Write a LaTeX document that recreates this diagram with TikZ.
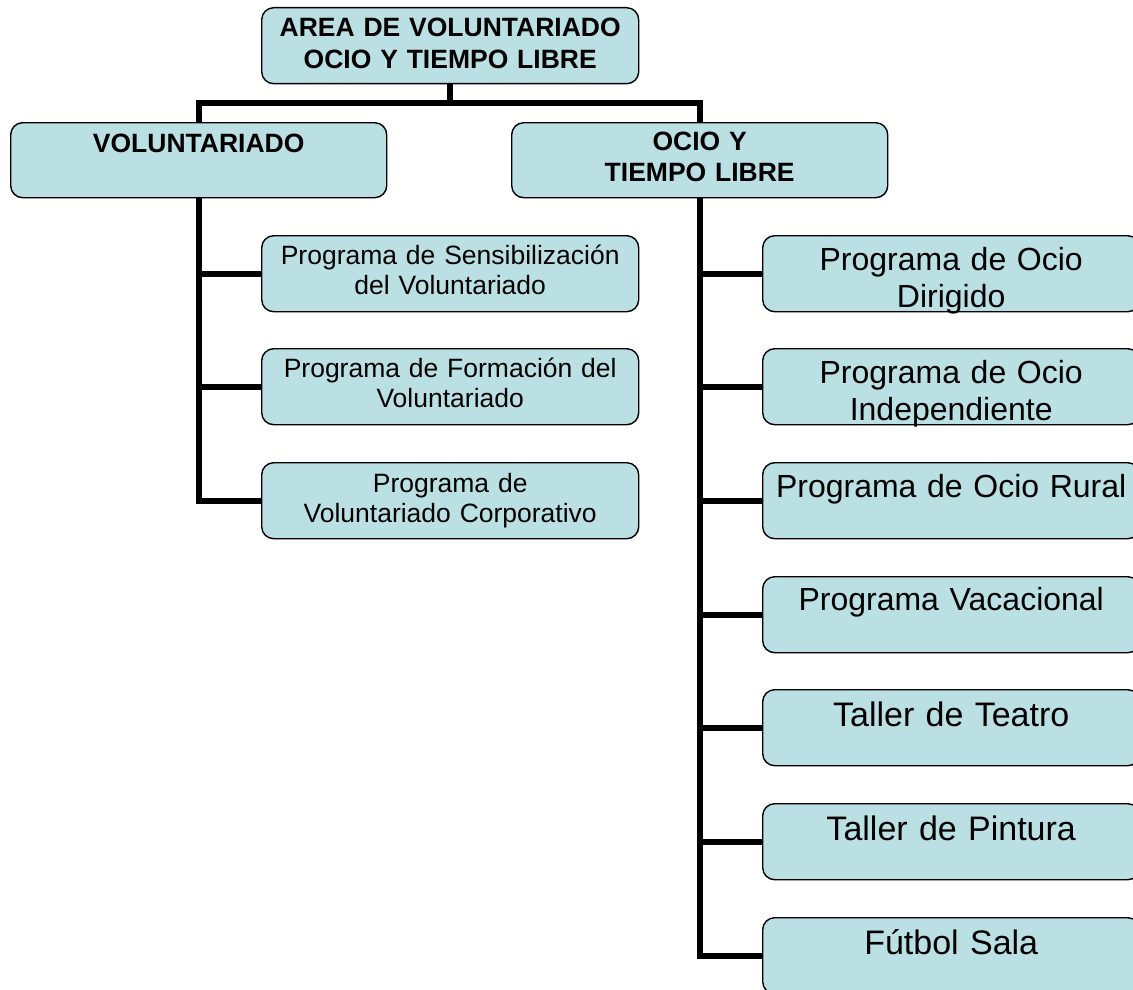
\documentclass[tikz,border=0pt]{standalone}
\usepackage{fontspec}
\setmainfont{Liberation Sans}
\usepackage{tikz}

\definecolor{celeste}{RGB}{186,224,228}

\begin{document}
\begin{tikzpicture}
            [x=1pt,y=-1pt,
             caja/.style={draw=black,line width=1.4pt,fill=celeste,rounded corners=12pt,
               minimum width=377pt,minimum height=76pt,inner sep=0pt,anchor=north west},
             texto/.style={anchor=base,inner sep=0pt,text width=375pt,align=center},
             titulo/.style={texto,font=\fontsize{26.5}{31.5}\selectfont\bfseries},
             prog/.style={texto,font=\fontsize{26.5}{30}\selectfont},
             progg/.style={texto,font=\fontsize{32}{37}\selectfont},
             taller/.style={texto,font=\fontsize{34}{39}\selectfont},
             tronco/.style={line width=6pt,line join=miter}]
            \useasboundingbox (0,0) rectangle (1133,990);
            \clip (0,0) rectangle (1133,990);
            % cajas
            \node[caja] (raiz) at (261,7) {};
            \node[caja,minimum width=376pt,minimum height=75pt] (vol) at (10,122) {};
            \node[caja,minimum width=376pt,minimum height=75pt] (ocio) at (511,122) {};
            \node[caja] (p1) at (261,235) {};
            \node[caja] (p2) at (261,348) {};
            \node[caja] (p3) at (261,462) {};
            \node[caja] (f1) at (762,235) {};
            \node[caja] (f2) at (762,348) {};
            \node[caja] (f3) at (762,462) {};
            \node[caja] (f4) at (762,576) {};
            \node[caja] (f5) at (762,689) {};
            \node[caja] (f6) at (762,803) {};
            \node[caja] (f7) at (762,917) {};
            %
            \node[titulo] (raiz-t) at ([yshift=-30pt]raiz.north) {AREA DE VOLUNTARIADO\\OCIO Y TIEMPO LIBRE};
            \node[titulo] (vol-t) at ([yshift=-30pt]vol.north) {VOLUNTARIADO};
            \node[titulo] (ocio-t) at ([yshift=-28pt]ocio.north) {OCIO Y\\TIEMPO LIBRE};
            \node[prog] (p1-t) at ([yshift=-29pt]p1.north) {Programa de Sensibilización\\del Voluntariado};
            \node[prog] (p2-t) at ([yshift=-29pt]p2.north) {Programa de Formación del\\Voluntariado};
            \node[prog] (p3-t) at ([yshift=-30pt]p3.north) {Programa de\\Voluntariado Corporativo};
            \node[progg] (f1-t) at ([yshift=-35pt]f1.north) {Programa de Ocio\\Dirigido};
            \node[progg] (f2-t) at ([yshift=-35pt]f2.north) {Programa de Ocio\\Independiente};
            \node[progg] (f3-t) at ([yshift=-35pt]f3.north) {Programa de Ocio Rural};
            \node[progg] (f4-t) at ([yshift=-34pt]f4.north) {Programa Vacacional};
            \node[taller] (f5-t) at ([yshift=-37pt]f5.north) {Taller de Teatro};
            \node[taller] (f6-t) at ([yshift=-37pt]f6.north) {Taller de Pintura};
            \node[taller] (f7-t) at ([yshift=-37pt]f7.north) {Fútbol Sala};
            %
            \coordinate (barra) at ([yshift=-19pt]raiz.south);
            \draw[tronco] (raiz.south) -- (barra);
            \draw[tronco] (vol.north) |- (barra) -| (ocio.north);
            \draw[tronco] (vol.south) |- (p3.west);
            \draw[tronco] (ocio.south) |- (f7.west);
            \draw[tronco] (p1.west -| vol.south) -- (p1.west);
            \draw[tronco] (p2.west -| vol.south) -- (p2.west);
            \draw[tronco] (f1.west -| ocio.south) -- (f1.west);
            \draw[tronco] (f2.west -| ocio.south) -- (f2.west);
            \draw[tronco] (f3.west -| ocio.south) -- (f3.west);
            \draw[tronco] (f4.west -| ocio.south) -- (f4.west);
            \draw[tronco] (f5.west -| ocio.south) -- (f5.west);
            \draw[tronco] (f6.west -| ocio.south) -- (f6.west);
        \end{tikzpicture}
\end{document}
